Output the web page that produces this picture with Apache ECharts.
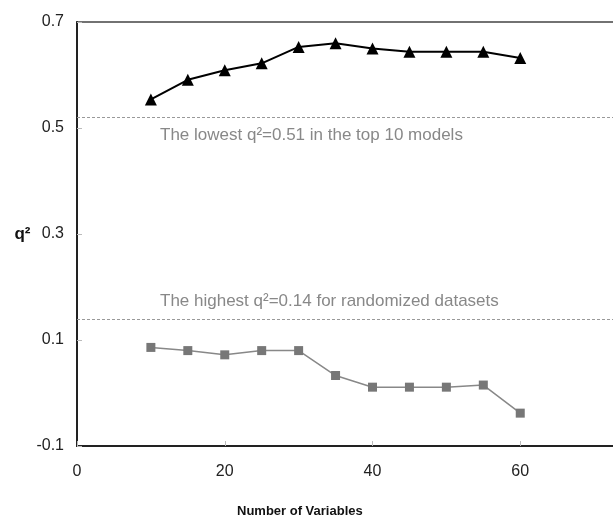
<!DOCTYPE html>
<html><head><meta charset="utf-8">
<script src="https://cdn.jsdelivr.net/npm/echarts@6/dist/echarts.min.js"></script>
<style>html,body{margin:0;padding:0;background:#fff;overflow:hidden;width:613px;height:525px}#c{width:668px;height:525px}</style>
</head><body><div id="c"></div>
<script>
const xValues = [10, 15, 20, 25, 30, 35, 40, 45, 50, 55, 60];
const topModels = [0.554, 0.591, 0.609, 0.622, 0.653, 0.660, 0.650, 0.644, 0.644, 0.644, 0.632];
const randomized = [0.086, 0.080, 0.072, 0.080, 0.080, 0.033, 0.011, 0.011, 0.011, 0.015, -0.038];
const lowestLine = 0.515;
const highestLine = 0.135;
const lowestText = 'The lowest q\u00B2=0.51 in the top 10 models';
const highestText = 'The highest q\u00B2=0.14 for randomized datasets';
const xTitle = 'Number of Variables';
const yTitle = 'q\u00B2';

const font = 'Liberation Sans, Arial, sans-serif';
const chart = echarts.init(document.getElementById('c'), null, {renderer: 'canvas'});
chart.setOption({
  animation: false,
  title: {
    text: xTitle, left: 232, top: 500,
    textStyle: {fontFamily: font, fontWeight: 'bold', fontSize: 13, color: '#111'}
  },
  grid: {left: 77, top: 22, bottom: 79, right: 0, show: true, borderColor: '#444', borderWidth: 1.5, backgroundColor: '#fff'},
  xAxis: {
    type: 'value', min: 0, max: 80, interval: 20,
    axisLine: {show: true, onZero: false, lineStyle: {color: '#222', width: 2}},
    axisTick: {show: true, inside: true, length: 5, lineStyle: {color: '#bbb'}},
    axisLabel: {fontFamily: font, fontSize: 16, color: '#222', margin: 18, showMaxLabel: false},
    splitLine: {show: false}
  },
  yAxis: {
    type: 'value', min: -0.1, max: 0.7, interval: 0.2,
    name: yTitle, nameLocation: 'middle', nameGap: 43, nameRotate: 0,
    nameTextStyle: {fontFamily: font, fontWeight: 'bold', fontSize: 17, color: '#111', padding: [14, 0, 0, 0]},
    axisLine: {show: true, onZero: false, lineStyle: {color: '#222', width: 2}},
    axisTick: {show: true, inside: true, length: 5, lineStyle: {color: '#bbb'}},
    axisLabel: {fontFamily: font, fontSize: 16, color: '#222', margin: 13, formatter: v => v.toFixed(1)},
    splitLine: {show: false}
  },
  series: [
    {
      type: 'line', data: xValues.map((x, i) => [x, topModels[i]]),
      symbol: 'triangle', symbolSize: 12,
      itemStyle: {color: '#000'}, lineStyle: {color: '#000', width: 2},
      markLine: {
        silent: true, symbol: 'none',
        lineStyle: {color: '#999', type: [3, 2], width: 1},
        label: {show: true, position: 'insideStartBottom', formatter: lowestText, fontFamily: font, fontSize: 17, color: '#888', padding: [4, 0, 0, 78]},
        data: [{yAxis: lowestLine}]
      }
    },
    {
      type: 'line', data: xValues.map((x, i) => [x, randomized[i]]),
      symbol: 'rect', symbolSize: 9,
      itemStyle: {color: '#777'}, lineStyle: {color: '#888', width: 1.5},
      markLine: {
        silent: true, symbol: 'none',
        lineStyle: {color: '#999', type: [3, 2], width: 1},
        label: {show: true, position: 'insideStartTop', formatter: highestText, fontFamily: font, fontSize: 17, color: '#888', padding: [0, 0, 4, 78]},
        data: [{yAxis: highestLine}]
      }
    }
  ]
});
</script></body></html>
